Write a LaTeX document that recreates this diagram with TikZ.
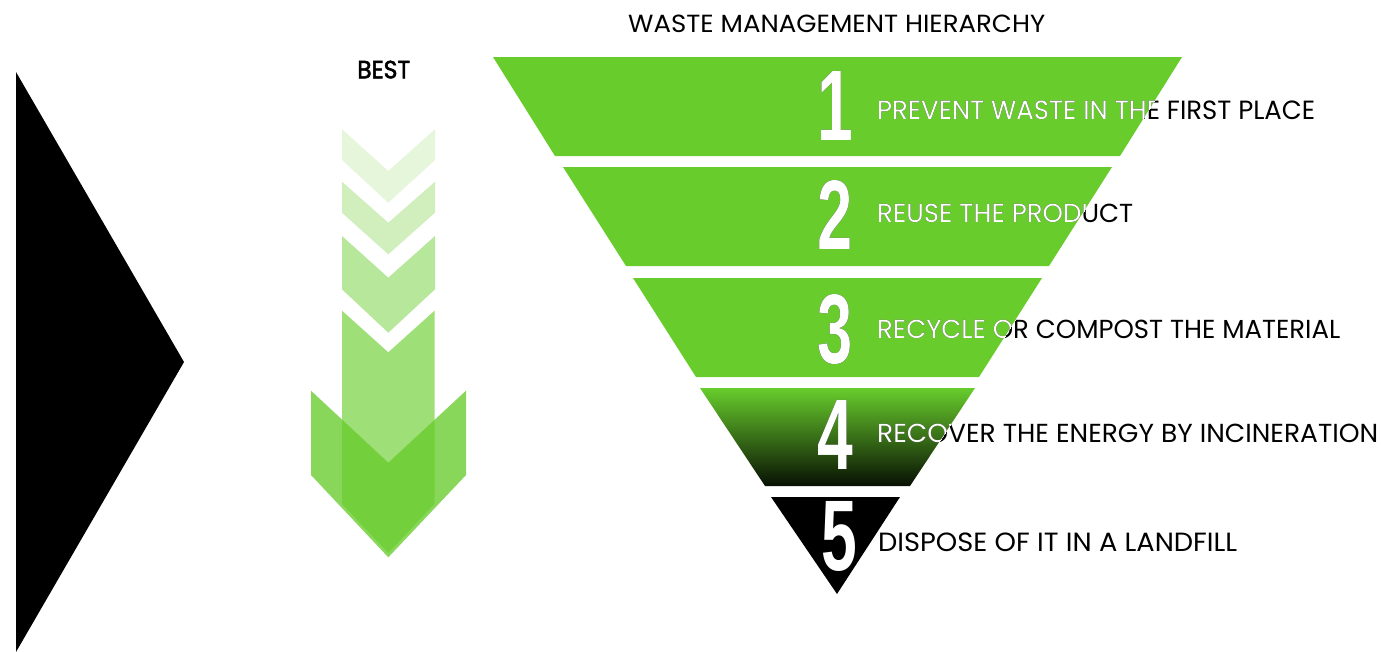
\documentclass[tikz,border=0pt]{standalone}
\usepackage{fontspec}
\usepackage{graphicx}
\newfontfamily\geo{Poppins}
\newfontfamily\geomed{Poppins}[FakeBold=2.2]
\newfontfamily\digitfont{Liberation Sans}
\definecolor{hgreen}{RGB}{104,205,44}
\tikzset{
  lbl/.style={anchor=base west, inner sep=0pt},
  numlbl/.style={anchor=base, inner sep=0pt},
  band/.style={fill=hgreen, draw=none},
  chev/.style={fill=hgreen, draw=none}
}
% band polygon: top y, bottom y, top-left x, top-right x, bottom-left x, bottom-right x
\newcommand\bandpoly[6]{(#3,#1) -- (#4,#1) -- (#6,#2) -- (#5,#2) -- cycle}
\newcommand\numtext[1]{\scalebox{0.64}[1]{\resizebox{!}{69pt}{\digitfont\bfseries #1}}}
\newcommand\hlabels[2]{%
  \node[numlbl, text=#1] (#2n1) at (835,140) {\numtext{1}};
  \node[numlbl, text=#1] (#2n2) at (835.5,249) {\numtext{2}};
  \node[numlbl, text=#1] (#2n3) at (835.5,363) {\numtext{3}};
  \node[numlbl, text=#1] (#2n4) at (835.5,469) {\numtext{4}};
  \node[numlbl, text=#1] (#2n5) at (839,570) {\numtext{5}};
  \node[lbl, text=#1] (#2t1) at (877,119.3) {\resizebox{438pt}{18.6pt}{\geo PREVENT WASTE IN THE FIRST PLACE}};
  \node[lbl, text=#1] (#2t2) at (877,222.7) {\resizebox{256pt}{18.4pt}{\geo REUSE THE PRODUCT}};
  \node[lbl, text=#1] (#2t3) at (877,338.7) {\resizebox{463pt}{18.4pt}{\geo RECYCLE OR COMPOST THE MATERIAL}};
  \node[lbl, text=#1] (#2t4) at (877,442.7) {\resizebox{501pt}{18.4pt}{\geo RECOVER THE ENERGY BY INCINERATION}};
  \node[lbl, text=#1] (#2t5) at (878,551.7) {\resizebox{359pt}{18.6pt}{\geo DISPOSE OF IT IN A LANDFILL}};
}
\begin{document}
\begin{tikzpicture}[x=1pt,y=-1pt]
\useasboundingbox (0,0) rectangle (1381,651);
\fill[white] (0,0) rectangle (1381,651);

% left black wedge
\fill[black] (16,72) -- (184,362) -- (16,652) -- cycle;

% title and BEST
\node[lbl] (title) at (628,32.7) {\resizebox{417pt}{17.5pt}{\geo WASTE MANAGEMENT HIERARCHY}};
\node[lbl] (best) at (357,78.3) {\resizebox{53pt}{17.6pt}{\geomed BEST}};

% chevrons of the arrow
\fill[chev, fill opacity=0.17] (342,129.3) -- (388.3,171) -- (435,129.3) -- (435,160) -- (388.3,202.7) -- (342,160) -- cycle;
\fill[chev, fill opacity=0.31] (342,181.7) -- (388.3,222.7) -- (435,181.7) -- (435,212.7) -- (388.3,254.3) -- (342,212.7) -- cycle;
\fill[chev, fill opacity=0.48] (342,236) -- (388.3,277.7) -- (435,236) -- (435,289.3) -- (388.3,332.7) -- (342,289.3) -- cycle;
\fill[chev, fill opacity=0.64] (342,310.7) -- (388.3,352.3) -- (434.5,310.7) -- (434.5,504) -- (388.3,553) -- (342,504) -- cycle;
\fill[chev, fill opacity=0.78] (311,390.7) -- (388.3,462.7) -- (466,390.7) -- (466,475) -- (388.3,557.3) -- (311,475) -- cycle;

% funnel bands
\fill[band] \bandpoly{57}{156}{493}{1182}{555}{1120};
\fill[band] \bandpoly{167}{266}{563}{1112}{626}{1049};
\fill[band] \bandpoly{278}{377}{633}{1042}{696}{979};
\shade[top color=hgreen, middle color=hgreen!72!black, bottom color=black!92!hgreen]
  \bandpoly{388}{486}{700}{975}{765}{910};
\fill[black] (771,497) -- (900,497) -- (837,594) -- cycle;

% labels: black everywhere, white where they lie on the funnel
\hlabels{black}{b}
\begin{scope}
  \clip \bandpoly{57}{156}{493}{1182}{555}{1120}
        \bandpoly{167}{266}{563}{1112}{626}{1049}
        \bandpoly{278}{377}{633}{1042}{696}{979}
        \bandpoly{388}{486}{700}{975}{765}{910}
        (771,497) -- (900,497) -- (837,594) -- cycle;
  \hlabels{white}{w}
\end{scope}
\end{tikzpicture}
\end{document}
